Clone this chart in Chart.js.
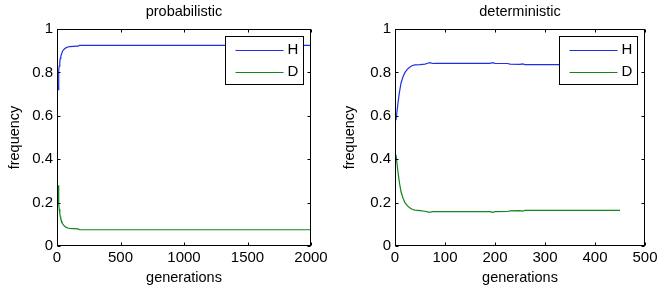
<!DOCTYPE html>
<html lang="en">
<head>
<meta charset="UTF-8">
<title>H / D frequency</title>
<script src="https://cdn.jsdelivr.net/npm/chart.js"></script>
<style>
  body { margin: 0; background: #fff; }
  .panel { position: absolute; top: 0; height: 293px; }
</style>
</head>
<body>
<div class="panel" style="left:0;width:335px"><canvas id="probChart" width="335" height="293"></canvas></div>
<div class="panel" style="left:335px;width:334px"><canvas id="detChart" width="334" height="293"></canvas></div>
<script>
// probabilistic run
const probGen = [6, 9, 12, 15, 18, 22, 26, 30, 36, 42, 50, 60, 70, 85, 100, 130, 160, 168, 175, 2000];
const probH = [0.74, 0.72, 0.78, 0.81, 0.83, 0.85, 0.865, 0.875, 0.885, 0.895, 0.903, 0.909, 0.913, 0.917, 0.919, 0.92, 0.921, 0.921, 0.925, 0.925];
const probD = [0.26, 0.28, 0.22, 0.19, 0.17, 0.15, 0.135, 0.125, 0.115, 0.105, 0.097, 0.091, 0.087, 0.083, 0.081, 0.08, 0.079, 0.079, 0.075, 0.075];

// deterministic run
const detGen = [2, 4, 6, 9, 12, 16, 20, 25, 30, 35, 40, 50, 60, 65, 70, 75, 80, 100, 150, 190, 195, 200, 225, 230, 250, 255, 260, 300, 400, 450];
const detH = [0.58, 0.62, 0.66, 0.71, 0.75, 0.78, 0.80, 0.815, 0.825, 0.832, 0.835, 0.836, 0.838, 0.842, 0.845, 0.841, 0.842, 0.842, 0.842, 0.842, 0.845, 0.842, 0.841, 0.838, 0.837, 0.839, 0.836, 0.836, 0.836, 0.836];
const detD = [0.42, 0.38, 0.34, 0.29, 0.25, 0.22, 0.20, 0.185, 0.175, 0.168, 0.165, 0.163, 0.16, 0.157, 0.155, 0.159, 0.158, 0.158, 0.158, 0.158, 0.155, 0.158, 0.159, 0.162, 0.163, 0.161, 0.164, 0.164, 0.164, 0.164];

const seriesNames = ['H', 'D'];
const seriesColors = ['#1f2fe6', '#13861a'];
const yTicks = [0, 0.2, 0.4, 0.6, 0.8, 1];

const LABEL_FONT = { family: '"Liberation Sans", Arial, Helvetica, sans-serif', size: 14.5 };
const TICK_FONT = { family: '"Liberation Sans", Arial, Helvetica, sans-serif', size: 15 };

// MATLAB style box with inward ticks on every side, plus title and legend
const boxPlugin = {
  id: 'box',
  afterDatasetsDraw(chart) {
    const { ctx, chartArea: a, scales: { x, y } } = chart;
    const L = Math.round(a.left) + 0.5, R = Math.round(a.right) - 0.5;
    const T = Math.round(a.top) + 0.5, B = Math.round(a.bottom) - 0.5;
    ctx.save();
    ctx.strokeStyle = '#000';
    ctx.lineWidth = 1;
    ctx.strokeRect(L, T, R - L, B - T);
    ctx.beginPath();
    x.ticks.forEach(t => {
      const px = Math.round(x.getPixelForValue(t.value)) + 0.5;
      ctx.moveTo(px, B); ctx.lineTo(px, B - 3);
      ctx.moveTo(px, T); ctx.lineTo(px, T + 3);
    });
    y.ticks.forEach(t => {
      const py = Math.round(y.getPixelForValue(t.value)) + 0.5;
      ctx.moveTo(L, py); ctx.lineTo(L + 3, py);
      ctx.moveTo(R, py); ctx.lineTo(R - 3, py);
    });
    ctx.stroke();
    ctx.restore();
  },
  afterDraw(chart) {
    const { ctx, chartArea: a } = chart;
    ctx.save();
    // title
    ctx.fillStyle = '#000';
    ctx.font = LABEL_FONT.size + 'px ' + LABEL_FONT.family;
    ctx.textAlign = 'center';
    ctx.textBaseline = 'middle';
    ctx.fillText(chart.options.plugins.box.title, (a.left + a.right) / 2, 12);
    // legend box in the upper right corner
    const bw = 78, bh = 48;
    const bx = Math.round(a.right) - 8 - bw + 0.5, by = Math.round(a.top) + 7 + 0.5;
    ctx.fillStyle = '#fff';
    ctx.fillRect(bx, by, bw, bh);
    ctx.strokeStyle = '#000';
    ctx.strokeRect(bx, by, bw, bh);
    ctx.font = TICK_FONT.size + 'px ' + TICK_FONT.family;
    chart.data.datasets.forEach((ds, i) => {
      const ly = by + 13 + i * 22;
      ctx.strokeStyle = ds.borderColor;
      ctx.beginPath();
      ctx.moveTo(bx + 10, Math.round(ly) + 0.5);
      ctx.lineTo(bx + 58, Math.round(ly) + 0.5);
      ctx.stroke();
      ctx.fillStyle = '#000';
      ctx.textAlign = 'left';
      ctx.fillText(ds.label, bx + 62, ly);
    });
    ctx.restore();
  }
};

function makeChart(id, title, gen, hVals, dVals, xMax, xStep, yAxisWidth) {
  const toPoints = vals => gen.map((g, i) => ({ x: g, y: vals[i] }));
  return new Chart(document.getElementById(id), {
    type: 'line',
    data: {
      datasets: [hVals, dVals].map((vals, i) => ({
        label: seriesNames[i],
        data: toPoints(vals),
        borderColor: seriesColors[i],
        borderWidth: 1.2,
        pointRadius: 0,
        tension: 0
      }))
    },
    options: {
      responsive: false,
      animation: false,
      layout: { padding: { left: 0, top: 29, right: 24, bottom: 0 } },
      plugins: {
        legend: { display: false },
        tooltip: { enabled: false },
        box: { title: title }
      },
      scales: {
        x: {
          type: 'linear',
          min: 0,
          max: xMax,
          ticks: { stepSize: xStep, color: '#000', font: TICK_FONT, padding: 3, maxRotation: 0, callback: v => String(v) },
          grid: { display: false, drawTicks: false },
          border: { display: false },
          title: { display: true, text: 'generations', color: '#000', font: LABEL_FONT, padding: { top: 0, bottom: 6 } },
          afterFit: s => { s.height = 47; }
        },
        y: {
          min: 0,
          max: 1,
          afterBuildTicks: s => { s.ticks = yTicks.map(v => ({ value: v })); },
          ticks: { color: '#000', font: TICK_FONT, padding: 4, callback: v => String(v) },
          grid: { display: false, drawTicks: false },
          border: { display: false },
          title: { display: true, text: 'frequency', color: '#000', font: LABEL_FONT, padding: { top: 6, bottom: 0 } },
          afterFit: s => { s.width = yAxisWidth; }
        }
      }
    },
    plugins: [boxPlugin]
  });
}

makeChart('probChart', 'probabilistic', probGen, probH, probD, 2000, 500, 57);
makeChart('detChart', 'deterministic', detGen, detH, detD, 500, 100, 60);
</script>
</body>
</html>
